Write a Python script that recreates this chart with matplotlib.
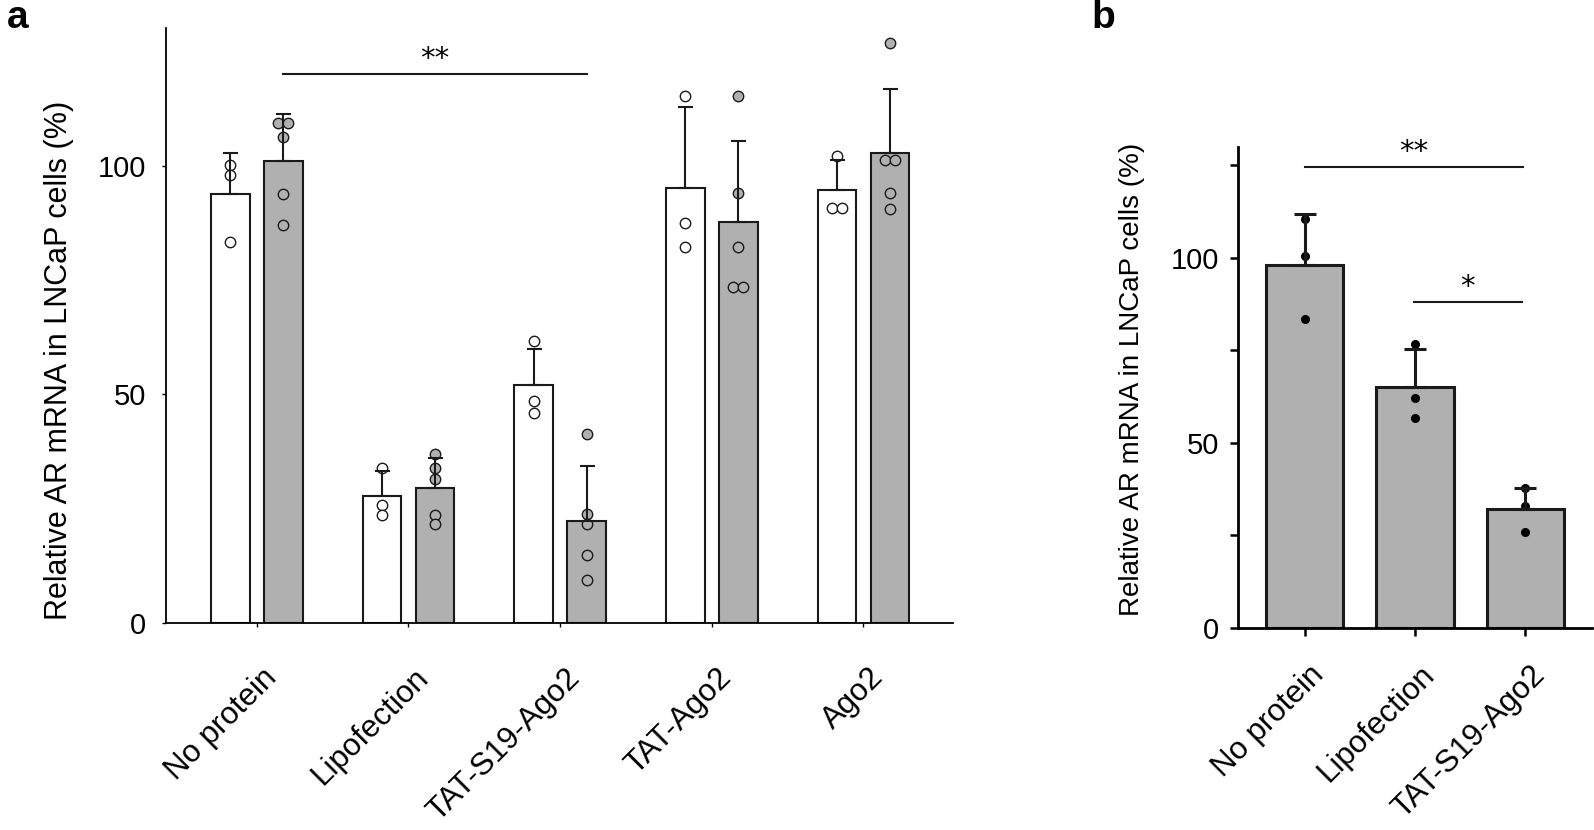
import numpy as np
import matplotlib
matplotlib.use('Agg')
import matplotlib.pyplot as plt
from matplotlib.transforms import ScaledTranslation

plt.rcParams['font.family'] = ['Liberation Sans', 'DejaVu Sans']

# Panel a data
groups_a = ['No protein', 'Lipofection', 'TAT-S19-Ago2', 'TAT-Ago2', 'Ago2']
white_mean = [93.8, 27.8, 52.1, 95.0, 94.6]
white_sd = [9.0, 5.4, 7.9, 17.8, 6.6]
grey_mean = [101.1, 29.6, 22.3, 87.7, 102.7]
grey_sd = [10.1, 6.6, 12.1, 17.6, 14.1]
white_pts = [
    [100.2, 98.0, 83.3],
    [34.0, 25.8, 23.6],
    [61.6, 48.6, 46.0],
    [115.3, 87.5, 82.1],
    [102.2, 90.8, 90.8],
]
grey_pts = [
    [109.2, 109.2, 106.3, 93.7, 87.0],
    [36.9, 34.0, 31.6, 23.6, 21.7],
    [41.4, 23.8, 21.7, 14.9, 9.5],
    [115.3, 94.0, 82.2, 73.4, 73.4],
    [126.7, 101.2, 101.2, 93.9, 90.6],
]

# Panel b data
groups_b = ['No protein', 'Lipofection', 'TAT-S19-Ago2']
b_mean = [98.1, 65.1, 32.2]
b_sd = [13.8, 10.3, 5.6]
b_pts = [
    [110.4, 100.5, 83.4],
    [76.8, 62.0, 56.6],
    [37.8, 32.9, 25.9],
]

GREY = '#b0b0b0'
EDGE = '#1a1a1a'


def swarm_offsets(vals, dx):
    # put equal values side by side
    offs = np.zeros(len(vals))
    vals = np.asarray(vals)
    used = np.zeros(len(vals), bool)
    for i in range(len(vals)):
        if used[i]:
            continue
        idx = [j for j in range(len(vals)) if not used[j] and abs(vals[j] - vals[i]) < 0.5]
        k = len(idx)
        for n, j in enumerate(idx):
            offs[j] = (n - (k - 1) / 2) * dx
            used[j] = True
    return offs


fig = plt.figure(figsize=(15.94, 8.30), dpi=100)

# ---------------- panel a ----------------
ax = fig.add_axes([0.1040, 0.2492, 0.4936, 0.7167])
x = np.arange(len(groups_a))
w = 0.255
off = 0.175
ax.bar(x - off, white_mean, w, color='white', edgecolor=EDGE, linewidth=1.5, zorder=1)
ax.bar(x + off, grey_mean, w, color=GREY, edgecolor=EDGE, linewidth=1.5, zorder=1)

for i in range(len(groups_a)):
    ow = swarm_offsets(white_pts[i], 0.068)
    ax.plot(x[i] - off + ow, white_pts[i], 'o', ms=7.5, mfc='white', mec=EDGE, mew=1.0, zorder=2)
    og = swarm_offsets(grey_pts[i], 0.068)
    ax.plot(x[i] + off + og, grey_pts[i], 'o', ms=7.5, mfc=GREY, mec=EDGE, mew=1.0, zorder=2)

ax.errorbar(x - off, white_mean, yerr=[np.zeros(5), white_sd], fmt='none',
            ecolor=EDGE, elinewidth=1.5, capsize=5.4, capthick=1.5, zorder=3)
ax.errorbar(x + off, grey_mean, yerr=[np.zeros(5), grey_sd], fmt='none',
            ecolor=EDGE, elinewidth=1.5, capsize=5.4, capthick=1.5, zorder=3)

# significance
ax.plot([0 + off, 2 + off], [120, 120], color=EDGE, lw=1.5)
ax.text(1 + off, 120.3, '**', ha='center', va='bottom', fontsize=21, family='DejaVu Sans')

ax.set_xlim(-0.60, 4.588)
ax.set_ylim(0, 130)
ax.set_yticks([0, 50, 100])
ax.set_xticks(x)
ax.set_xticklabels(groups_a, rotation=45, ha='right', va='center', rotation_mode='anchor', fontsize=22.5)
ax.tick_params(axis='y', labelsize=21, length=3, width=1, pad=11)
ax.tick_params(axis='x', length=3, width=1, pad=33)
for s in ['top', 'right']:
    ax.spines[s].set_visible(False)
for s in ['left', 'bottom']:
    ax.spines[s].set_linewidth(1.3)
ax.set_ylabel('Relative AR mRNA in LNCaP cells (%)', fontsize=22)
ax.yaxis.set_label_coords(-0.1166, 0.441)

# ---------------- panel b ----------------
bx = fig.add_axes([0.7765, 0.2437, 0.2223, 0.5795])
xb = np.arange(len(groups_b))
bx.bar(xb, b_mean, 0.70, color=GREY, edgecolor=EDGE, linewidth=2.2, zorder=1)
for i in range(len(groups_b)):
    bx.plot([xb[i]] * len(b_pts[i]), b_pts[i], 'o', ms=5.5, color='black', zorder=2)
bx.errorbar(xb, b_mean, yerr=[np.zeros(3), b_sd], fmt='none', ecolor=EDGE,
            elinewidth=2.2, capsize=7.9, capthick=2.2, zorder=3)

bx.plot([0, 1.98], [124.6, 124.6], color=EDGE, lw=1.5, clip_on=False)
bx.text(0.99, 124.9, '**', ha='center', va='bottom', fontsize=21, family='DejaVu Sans', clip_on=False)
bx.plot([0.99, 1.97], [88.1, 88.1], color=EDGE, lw=1.5)
bx.text(1.48, 88.4, '*', ha='center', va='bottom', fontsize=21, family='DejaVu Sans')

bx.set_xlim(-0.605, 2.605)
bx.set_ylim(0, 130)
bx.set_yticks([0, 25, 50, 75, 100, 125])
bx.set_yticklabels(['0', '', '50', '', '100', ''])
bx.set_xticks(xb)
bx.set_xticklabels(groups_b, rotation=45, ha='right', va='center', rotation_mode='anchor', fontsize=22.5)
bx.tick_params(axis='y', labelsize=21, length=5.5, width=1.8, pad=8)
bx.tick_params(axis='x', length=5.5, width=1.8, pad=25)
for s in ['top', 'right']:
    bx.spines[s].set_visible(False)
for s in ['left', 'bottom']:
    bx.spines[s].set_linewidth(2.0)
bx.set_ylabel('Relative AR mRNA in LNCaP cells (%)', fontsize=20)
bx.yaxis.set_label_coords(-0.262, 0.517)

# nudge rotated labels right a bit
for a in (ax, bx):
    for lbl in a.get_xticklabels():
        lbl.set_transform(lbl.get_transform() + ScaledTranslation(11 / 72, 0, fig.dpi_scale_trans))

fig.text(0.004, 0.978, 'a', fontsize=28, fontweight='bold', va='center', ha='left')
fig.text(0.685, 0.978, 'b', fontsize=28, fontweight='bold', va='center', ha='left')

fig.savefig('out.png', dpi=100)
